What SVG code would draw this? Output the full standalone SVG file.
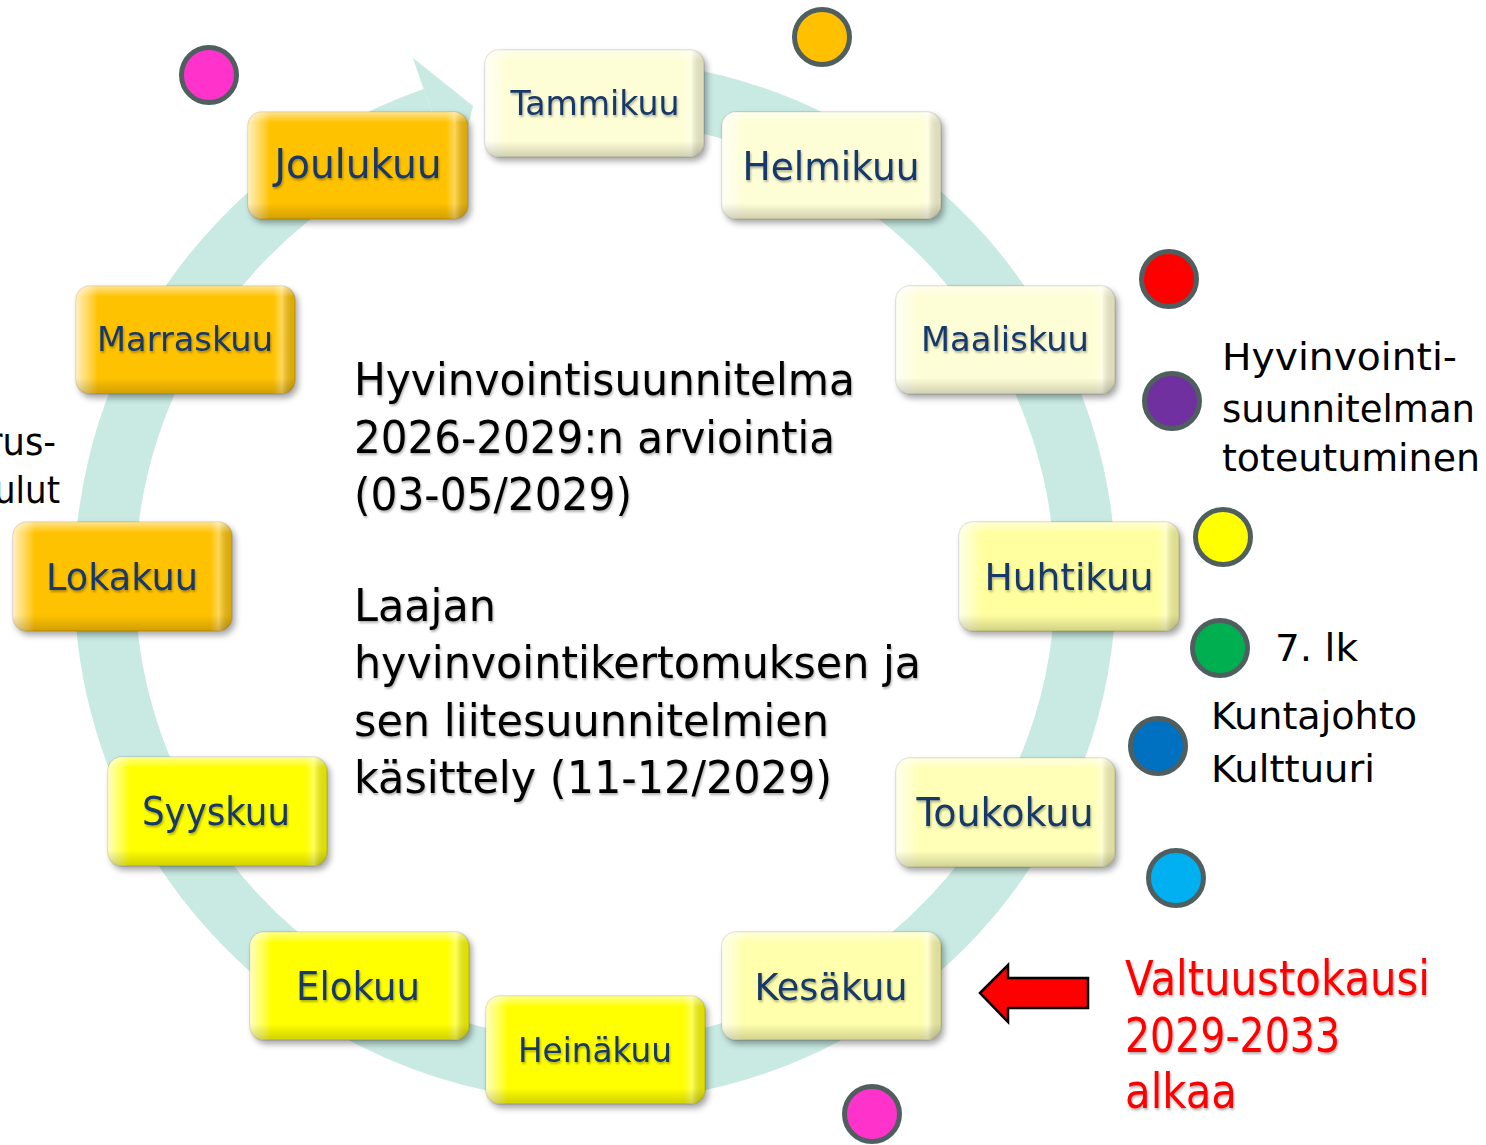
<svg xmlns="http://www.w3.org/2000/svg" width="1486" height="1145" viewBox="0 0 1486 1145">
<defs>
  <filter id="shadow" x="-10%" y="-10%" width="130%" height="140%">
    <feDropShadow dx="3" dy="4" stdDeviation="3" flood-color="#000" flood-opacity="0.35"/>
  </filter>
  <filter id="tshadow" x="-5%" y="-20%" width="110%" height="150%">
    <feDropShadow dx="1" dy="2" stdDeviation="1.2" flood-color="#000" flood-opacity="0.3"/>
  </filter>
  <linearGradient id="bevH" x1="0" y1="0" x2="1" y2="0">
    <stop offset="0" stop-color="#fff" stop-opacity="0.75"/>
    <stop offset="0.07" stop-color="#fff" stop-opacity="0.25"/>
    <stop offset="0.1" stop-color="#fff" stop-opacity="0"/>
    <stop offset="0.9" stop-color="#fff" stop-opacity="0"/>
    <stop offset="0.94" stop-color="#fff" stop-opacity="0.35"/>
    <stop offset="1" stop-color="#000" stop-opacity="0.12"/>
  </linearGradient>
  <linearGradient id="bevV" x1="0" y1="0" x2="0" y2="1">
    <stop offset="0" stop-color="#fff" stop-opacity="0.55"/>
    <stop offset="0.1" stop-color="#fff" stop-opacity="0"/>
    <stop offset="0.85" stop-color="#000" stop-opacity="0"/>
    <stop offset="1" stop-color="#000" stop-opacity="0.18"/>
  </linearGradient>
  <style>
    .box rect.b { stroke: #000; stroke-opacity: 0.12; stroke-width: 1.5; filter: url(#shadow); }
    .box rect.h { fill: url(#bevH); }
    .box rect.v { fill: url(#bevV); }
    .cream rect.b { fill: #fefed6; }
    .ly1 rect.b { fill: #ffffa0; }
    .ly2 rect.b { fill: #ffffb8; }
    .ly3 rect.b { fill: #ffffac; }
    .yel rect.b { fill: #ffff00; }
    .gold rect.b { fill: #ffc200; }
    .box text { font-family: "DejaVu Sans", "Liberation Sans", sans-serif; fill: #17386a; text-anchor: middle; filter: url(#tshadow); }
    .body { font-family: "DejaVu Sans", "Liberation Sans", sans-serif; fill: #000; }
    .red { font-family: "DejaVu Sans", "Liberation Sans", sans-serif; fill: #ff0000; font-size: 48px; }
    .dot { stroke: #4f5f5f; stroke-width: 5; }
  </style>
</defs>
<rect width="1486" height="1145" fill="#fff"/>

<g id="connectors">
  <path d="M 595 90.5 A 490.5 490.5 0 1 1 433.7 117.8" fill="none" stroke="#c8eae2" stroke-width="61"/>
  <polygon points="454.6,177.7 412.8,57.8 473,106" fill="#c8eae2"/>
</g>

<g id="tammikuu" class="box cream">
  <rect class="b" x="485" y="50" width="219" height="107" rx="14"/>
  <rect class="h" x="485" y="50" width="219" height="107" rx="14"/>
  <rect class="v" x="485" y="50" width="219" height="107" rx="14"/>
  <text x="595" y="115" font-size="33" textLength="169" lengthAdjust="spacingAndGlyphs">Tammikuu</text>
</g>
<g id="helmikuu" class="box cream">
  <rect class="b" x="722" y="112" width="219" height="107" rx="14"/>
  <rect class="h" x="722" y="112" width="219" height="107" rx="14"/>
  <rect class="v" x="722" y="112" width="219" height="107" rx="14"/>
  <text x="831" y="180" font-size="39" textLength="177" lengthAdjust="spacingAndGlyphs">Helmikuu</text>
</g>
<g id="maaliskuu" class="box cream">
  <rect class="b" x="896" y="286" width="219" height="108" rx="14"/>
  <rect class="h" x="896" y="286" width="219" height="108" rx="14"/>
  <rect class="v" x="896" y="286" width="219" height="108" rx="14"/>
  <text x="1005" y="351" font-size="34" textLength="168" lengthAdjust="spacingAndGlyphs">Maaliskuu</text>
</g>
<g id="huhtikuu" class="box ly1">
  <rect class="b" x="959" y="522" width="220" height="109" rx="14"/>
  <rect class="h" x="959" y="522" width="220" height="109" rx="14"/>
  <rect class="v" x="959" y="522" width="220" height="109" rx="14"/>
  <text x="1069" y="590" font-size="38" textLength="169" lengthAdjust="spacingAndGlyphs">Huhtikuu</text>
</g>
<g id="toukokuu" class="box ly2">
  <rect class="b" x="896" y="758" width="219" height="109" rx="14"/>
  <rect class="h" x="896" y="758" width="219" height="109" rx="14"/>
  <rect class="v" x="896" y="758" width="219" height="109" rx="14"/>
  <text x="1005" y="826" font-size="39" textLength="177" lengthAdjust="spacingAndGlyphs">Toukokuu</text>
</g>
<g id="kesakuu" class="box ly3">
  <rect class="b" x="722" y="932" width="219" height="108" rx="14"/>
  <rect class="h" x="722" y="932" width="219" height="108" rx="14"/>
  <rect class="v" x="722" y="932" width="219" height="108" rx="14"/>
  <text x="831" y="1000" font-size="38" textLength="153" lengthAdjust="spacingAndGlyphs">Kesäkuu</text>
</g>
<g id="heinakuu" class="box yel">
  <rect class="b" x="486" y="996" width="219" height="108" rx="14"/>
  <rect class="h" x="486" y="996" width="219" height="108" rx="14"/>
  <rect class="v" x="486" y="996" width="219" height="108" rx="14"/>
  <text x="595" y="1062" font-size="34" textLength="154" lengthAdjust="spacingAndGlyphs">Heinäkuu</text>
</g>
<g id="elokuu" class="box yel">
  <rect class="b" x="250" y="932" width="219" height="108" rx="14"/>
  <rect class="h" x="250" y="932" width="219" height="108" rx="14"/>
  <rect class="v" x="250" y="932" width="219" height="108" rx="14"/>
  <text x="358" y="1000" font-size="39" textLength="124" lengthAdjust="spacingAndGlyphs">Elokuu</text>
</g>
<g id="syyskuu" class="box yel">
  <rect class="b" x="108" y="757" width="219" height="109" rx="14"/>
  <rect class="h" x="108" y="757" width="219" height="109" rx="14"/>
  <rect class="v" x="108" y="757" width="219" height="109" rx="14"/>
  <text x="216" y="825" font-size="39" textLength="148" lengthAdjust="spacingAndGlyphs">Syyskuu</text>
</g>
<g id="lokakuu" class="box gold">
  <rect class="b" x="13" y="522" width="219" height="109" rx="14"/>
  <rect class="h" x="13" y="522" width="219" height="109" rx="14"/>
  <rect class="v" x="13" y="522" width="219" height="109" rx="14"/>
  <text x="122" y="590" font-size="38" textLength="152" lengthAdjust="spacingAndGlyphs">Lokakuu</text>
</g>
<g id="marraskuu" class="box gold">
  <rect class="b" x="76" y="286" width="219" height="108" rx="14"/>
  <rect class="h" x="76" y="286" width="219" height="108" rx="14"/>
  <rect class="v" x="76" y="286" width="219" height="108" rx="14"/>
  <text x="185" y="351" font-size="34" textLength="176" lengthAdjust="spacingAndGlyphs">Marraskuu</text>
</g>
<g id="joulukuu" class="box gold">
  <rect class="b" x="248" y="112" width="220" height="107" rx="14"/>
  <rect class="h" x="248" y="112" width="220" height="107" rx="14"/>
  <rect class="v" x="248" y="112" width="220" height="107" rx="14"/>
  <text x="358" y="178" font-size="40" textLength="167" lengthAdjust="spacingAndGlyphs">Joulukuu</text>
</g>

<g id="center-text" class="body" font-size="44" filter="url(#tshadow)">
  <text x="354" y="395" textLength="501" lengthAdjust="spacingAndGlyphs">Hyvinvointisuunnitelma</text>
  <text x="354" y="453" textLength="481" lengthAdjust="spacingAndGlyphs">2026-2029:n arviointia</text>
  <text x="354" y="510" textLength="278" lengthAdjust="spacingAndGlyphs">(03-05/2029)</text>
  <text x="354" y="621" textLength="142" lengthAdjust="spacingAndGlyphs">Laajan</text>
  <text x="354" y="678" textLength="567" lengthAdjust="spacingAndGlyphs">hyvinvointikertomuksen ja</text>
  <text x="354" y="736" textLength="475" lengthAdjust="spacingAndGlyphs">sen liitesuunnitelmien</text>
  <text x="354" y="793" textLength="478" lengthAdjust="spacingAndGlyphs">käsittely (11-12/2029)</text>
</g>

<g id="left-text" class="body" font-size="38">
  <text x="-12" y="455" textLength="68" lengthAdjust="spacingAndGlyphs">rus-</text>
  <text x="-6" y="503" textLength="66" lengthAdjust="spacingAndGlyphs">ulut</text>
</g>

<g id="legend-text" class="body" font-size="37">
  <text x="1222" y="370" textLength="235" lengthAdjust="spacingAndGlyphs">Hyvinvointi-</text>
  <text x="1222" y="422" textLength="253" lengthAdjust="spacingAndGlyphs">suunnitelman</text>
  <text x="1222" y="471" textLength="258" lengthAdjust="spacingAndGlyphs">toteutuminen</text>
  <text x="1275" y="661" textLength="83" lengthAdjust="spacingAndGlyphs">7. lk</text>
  <text x="1211" y="729" textLength="206" lengthAdjust="spacingAndGlyphs">Kuntajohto</text>
  <text x="1211" y="782" textLength="164" lengthAdjust="spacingAndGlyphs">Kulttuuri</text>
</g>

<g id="dots">
  <circle class="dot" cx="209" cy="75" r="27.5" fill="#ff33cc"/>
  <circle class="dot" cx="822" cy="37" r="27.5" fill="#ffc000"/>
  <circle class="dot" cx="1169" cy="279" r="27.5" fill="#ff0000"/>
  <circle class="dot" cx="1172" cy="401" r="27.5" fill="#7030a0"/>
  <circle class="dot" cx="1223" cy="537" r="27.5" fill="#ffff00"/>
  <circle class="dot" cx="1220" cy="648" r="27.5" fill="#00b050"/>
  <circle class="dot" cx="1158" cy="746" r="27.5" fill="#0070c0"/>
  <circle class="dot" cx="1176" cy="878" r="27.5" fill="#00b0f0"/>
  <circle class="dot" cx="872" cy="1114" r="27.5" fill="#ff33cc"/>
</g>

<g id="red-arrow">
  <polygon points="980,993 1008,965 1008,978 1088,978 1088,1008 1008,1008 1008,1022" fill="#ff0000" stroke="#000" stroke-width="2.5" stroke-linejoin="miter"/>
</g>

<g id="red-text" class="red" filter="url(#tshadow)">
  <text x="1125" y="995" textLength="305" lengthAdjust="spacingAndGlyphs">Valtuustokausi</text>
  <text x="1125" y="1052" textLength="215" lengthAdjust="spacingAndGlyphs">2029-2033</text>
  <text x="1125" y="1108" textLength="112" lengthAdjust="spacingAndGlyphs">alkaa</text>
</g>
</svg>
